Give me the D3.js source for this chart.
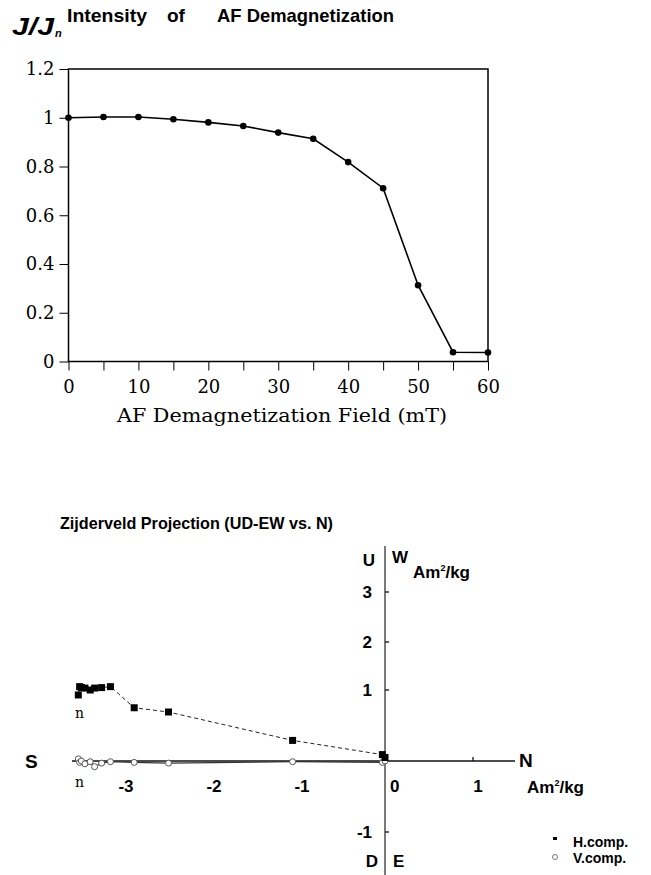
<!DOCTYPE html>
<html><head><meta charset="utf-8">
<script src="https://cdn.jsdelivr.net/npm/d3@7"></script>
<style>
html,body{margin:0;padding:0;background:#fff;}
svg{display:block;}
</style></head>
<body>
<script>
// ---------- Data ----------
const fields = [0,5,10,15,20,25,30,35,40,45,50,55,60];          // AF field (mT)
const intensity = [1.0,1.003,1.003,0.994,0.981,0.966,0.939,0.914,0.818,0.711,0.313,0.038,0.037]; // J/Jn
const yTicksTop = [0,0.2,0.4,0.6,0.8,1,1.2];
const xTicksTop = [0,5,10,15,20,25,30,35,40,45,50,55,60];
const xLabelsTop = [0,10,20,30,40,50,60];

// Zijderveld: N component (x), E-W (H.comp) and U-D (V.comp)
const compN  = [-3.485,-3.47,-3.45,-3.41,-3.35,-3.30,-3.22,-3.12,-2.85,-2.46,-1.05,-0.03,0.0];
const compEW = [0.93,1.07,1.05,1.04,1.00,1.04,1.05,1.07,0.75,0.69,0.29,0.09,0.05];
const compUD = [0.03,-0.02,0.0,-0.04,-0.01,-0.08,-0.03,-0.01,-0.02,-0.03,-0.01,-0.02,0.0];
const zxTicks = [-3,-2,-1,0,1];
const zyTicks = [-1,1,2,3];

const W = 651, H = 875;
const svg = d3.select("body").append("svg").attr("width",W).attr("height",H);
const sans = "'Liberation Sans', Arial, Helvetica, sans-serif";
const serif = "'DejaVu Serif', 'Liberation Serif', serif";

// ---------- Top chart ----------
const x1 = d3.scaleLinear().domain([0,60]).range([68.5,488]);
const y1 = d3.scaleLinear().domain([0,1.2]).range([361.5,69]);

const gT = svg.append("g");
gT.append("rect").attr("x",x1(0)).attr("y",y1(1.2)).attr("width",x1(60)-x1(0)).attr("height",y1(0)-y1(1.2))
  .attr("fill","none").attr("stroke","#000").attr("stroke-width",1.5);

const yAx = d3.axisLeft(y1).tickValues(yTicksTop).tickSize(9).tickPadding(5)
  .tickFormat(d => d===0 ? "0" : d===1 ? "1" : d3.format(".1f")(d));
gT.append("g").attr("transform",`translate(${x1(0)},0)`).call(yAx)
  .call(g=>{g.select(".domain").remove();
    g.selectAll("line").attr("stroke","#000").attr("stroke-width",1);
    g.selectAll("text").attr("font-family",serif).attr("font-size",18).attr("fill","#000");});

const xAx = d3.axisBottom(x1).tickValues(xTicksTop).tickSize(9).tickPadding(10)
  .tickFormat(d => xLabelsTop.includes(d) ? d : "");
gT.append("g").attr("transform",`translate(0,${y1(0)})`).call(xAx)
  .call(g=>{g.select(".domain").remove();
    g.selectAll("line").attr("stroke","#000").attr("stroke-width",1);
    g.selectAll("text").attr("font-family",serif).attr("font-size",18).attr("fill","#000");});

const line1 = d3.line().x((d,i)=>x1(fields[i])).y(d=>y1(d));
gT.append("path").datum(intensity).attr("d",line1).attr("fill","none").attr("stroke","#000").attr("stroke-width",1.6);
gT.selectAll("circle.pt").data(intensity).join("circle").attr("class","pt")
  .attr("cx",(d,i)=>x1(fields[i])).attr("cy",d=>y1(d)).attr("r",3.3).attr("fill","#000");

gT.append("text").attr("x",282).attr("y",422).attr("text-anchor","middle")
  .attr("font-family",serif).attr("font-size",18).attr("textLength",330).attr("lengthAdjust","spacingAndGlyphs")
  .text("AF Demagnetization Field (mT)");

// top title
svg.append("text").attr("x",12).attr("y",35).attr("font-family",sans).attr("font-weight","bold")
  .attr("font-style","italic").attr("font-size",24).attr("textLength",42).attr("lengthAdjust","spacingAndGlyphs").text("J/J");
svg.append("text").attr("x",55).attr("y",37).attr("font-family",sans).attr("font-weight","bold")
  .attr("font-style","italic").attr("font-size",11).text("n");
svg.append("text").attr("x",67).attr("y",22).attr("font-family",sans).attr("font-weight","bold").attr("font-size",19)
  .attr("textLength",80).attr("lengthAdjust","spacingAndGlyphs").text("Intensity");
svg.append("text").attr("x",167).attr("y",22).attr("font-family",sans).attr("font-weight","bold").attr("font-size",19)
  .text("of");
svg.append("text").attr("x",217).attr("y",22).attr("font-family",sans).attr("font-weight","bold").attr("font-size",19)
  .attr("textLength",177).attr("lengthAdjust","spacingAndGlyphs").text("AF Demagnetization");

// ---------- Zijderveld ----------
const x2 = d3.scaleLinear().domain([-3,1]).range([121,473]);
// vertical scale as printed in the original (upper ticks are spaced more tightly)
const y2 = d3.scaleLinear().domain([-1,0,1,2,3]).range([832,761,690,642,592]);
const gZ = svg.append("g");

svg.append("text").attr("x",60).attr("y",529).attr("font-family",sans).attr("font-weight","bold").attr("font-size",17)
  .attr("textLength",273).attr("lengthAdjust","spacingAndGlyphs").text("Zijderveld Projection (UD-EW vs. N)");

// axes lines
gZ.append("line").attr("x1",72).attr("x2",515).attr("y1",y2(0)).attr("y2",y2(0)).attr("stroke","#111").attr("stroke-width",1.3);
gZ.append("line").attr("x1",x2(0)).attr("x2",x2(0)).attr("y1",546).attr("y2",875).attr("stroke","#333").attr("stroke-width",1.3);

// y ticks on vertical axis
gZ.selectAll("line.yt").data(zyTicks).join("line").attr("class","yt")
  .attr("x1",x2(0)).attr("x2",x2(0)+4).attr("y1",d=>y2(d)).attr("y2",d=>y2(d)).attr("stroke","#111").attr("stroke-width",1.3);
gZ.selectAll("text.yl").data(zyTicks).join("text").attr("class","yl")
  .attr("x",372).attr("y",d=>y2(d)+6).attr("text-anchor","end")
  .attr("font-family",sans).attr("font-weight","bold").attr("font-size",17).text(d=>d);
// x ticks
gZ.selectAll("line.xt").data(zxTicks.filter(d=>d>0)).join("line").attr("class","xt")
  .attr("x1",d=>x2(d)).attr("x2",d=>x2(d)).attr("y1",y2(0)).attr("y2",y2(0)-4).attr("stroke","#111").attr("stroke-width",1.3);
gZ.selectAll("text.xl").data(zxTicks).join("text").attr("class","xl")
  .attr("x",d=>d===0? x2(0)+5 : x2(d)+5).attr("y",y2(0)+31).attr("text-anchor",d=>d===0?"start":"middle")
  .attr("font-family",sans).attr("font-weight","bold").attr("font-size",17).text(d=>d);

// direction labels
const lab = (x,y,t,anchor,size)=>svg.append("text").attr("x",x).attr("y",y).attr("text-anchor",anchor||"start")
  .attr("font-family",sans).attr("font-weight","bold").attr("font-size",size||17).text(t);
lab(375,566,"U","end");
lab(392,563,"W","start");
const am1 = lab(413,578,"","start",17); am1.append("tspan").text("Am"); am1.append("tspan").attr("font-size",9).attr("dy",-7).text("2"); am1.append("tspan").attr("dy",7).text("/kg");
lab(25,768,"S","start",19);
lab(519,767,"N","start",19);
const am2 = lab(527,793,"","start",17); am2.append("tspan").text("Am"); am2.append("tspan").attr("font-size",9).attr("dy",-7).text("2"); am2.append("tspan").attr("dy",7).text("/kg");
lab(378,867,"D","end");
lab(393,867,"E","start");

// V comp
const lineV = d3.line().x((d,i)=>x2(compN[i])).y(d=>y2(d));
gZ.append("path").datum(compUD).attr("d",lineV).attr("fill","none").attr("stroke","#333").attr("stroke-width",1.2);
gZ.selectAll("circle.v").data(compUD).join("circle").attr("class","v")
  .attr("cx",(d,i)=>x2(compN[i])).attr("cy",d=>y2(d)).attr("r",3).attr("fill","#fff").attr("stroke","#555").attr("stroke-width",1);

// H comp
const lineH = d3.line().x((d,i)=>x2(compN[i])).y(d=>y2(d));
gZ.append("path").datum(compEW).attr("d",lineH).attr("fill","none").attr("stroke","#222").attr("stroke-width",1).attr("stroke-dasharray","4,3");
gZ.selectAll("rect.h").data(compEW).join("rect").attr("class","h")
  .attr("x",(d,i)=>x2(compN[i])-3.5).attr("y",d=>y2(d)-3.5).attr("width",7).attr("height",7).attr("fill","#000");

// n labels
svg.append("text").attr("x",75).attr("y",718).attr("font-family",serif).attr("font-size",14).text("n");
svg.append("text").attr("x",75).attr("y",787).attr("font-family",serif).attr("font-size",14).text("n");

// legend
svg.append("rect").attr("x",553).attr("y",837).attr("width",4).attr("height",3).attr("fill","#000");
svg.append("circle").attr("cx",555).attr("cy",857).attr("r",2.5).attr("fill","#fff").attr("stroke","#777");
lab(573,847,"H.comp.","start",14);
lab(573,863,"V.comp.","start",14);
</script>
</body></html>
